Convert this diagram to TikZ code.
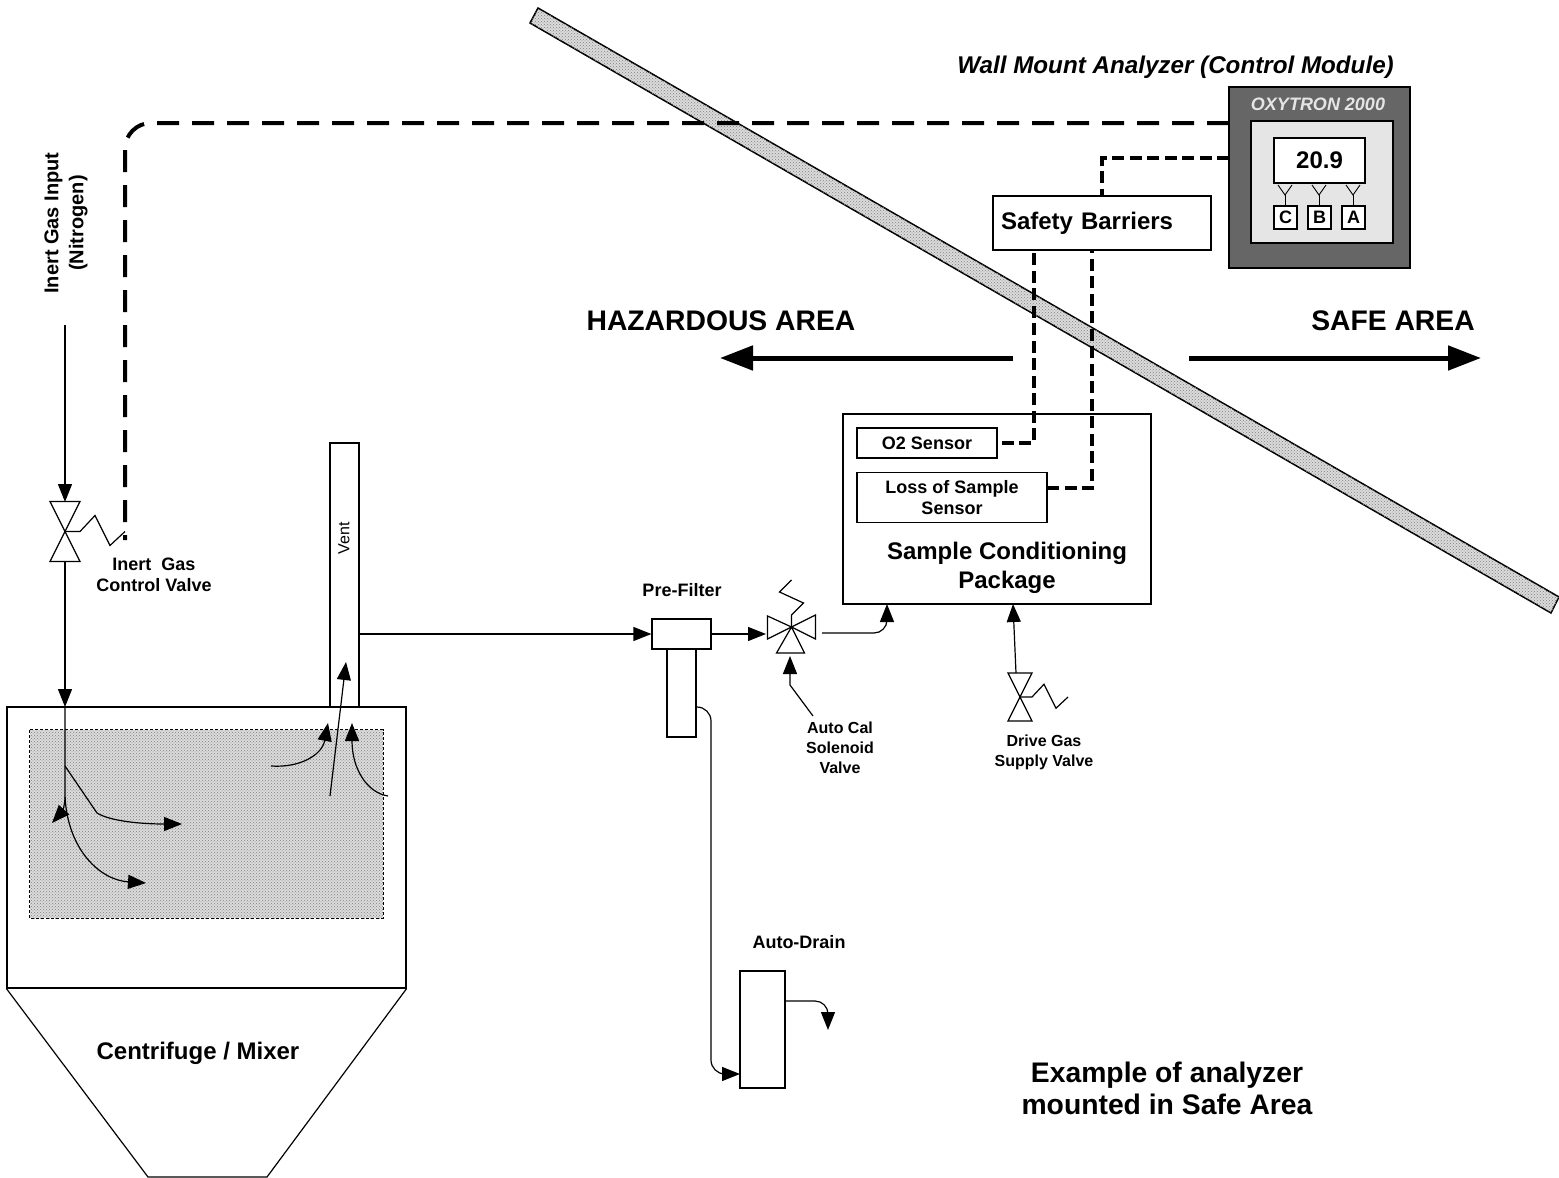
\documentclass[tikz,border=0pt]{standalone}
\usepackage{fontspec}
\setmainfont{Liberation Sans}
\usetikzlibrary{arrows.meta,patterns}

\tikzset{
  boxnode/.style={draw,line width=1.2pt,fill=white,inner sep=0pt},
  pipe/.style={line width=1.2pt},
  flow/.style={line width=1.2pt,-{Triangle[length=18pt,width=14pt]}},
  bigarrow/.style={line width=5pt,-{Triangle[length=33pt,width=24pt]}},
  longdash/.style={line width=4pt,dash pattern=on 22pt off 13pt},
  shortdash/.style={line width=4pt,dash pattern=on 12pt off 5.5pt},
  stipple/.style={fill=black!14,postaction={pattern=crosshatch dots,pattern color=black!50}},
  textsmall/.style={font=\bfseries\fontsize{16}{20}\selectfont,align=center},
  textmid/.style={font=\bfseries\fontsize{18}{21.5}\selectfont,align=center},
  textbig/.style={font=\bfseries\fontsize{24}{29}\selectfont,align=center},
  texthuge/.style={font=\bfseries\fontsize{28.3}{32}\selectfont,align=center}
}

\begin{document}
\begin{tikzpicture}[x=1pt,y=-1pt]
\useasboundingbox (0,0) rectangle (1559,1178);

\def\gasvalve(#1,#2,#3){
  \begin{scope}[shift={(#1,#2)},scale=#3]
    \draw[pipe,fill=white,line join=miter] (-15,-30) -- (15,-30) -- (-15,30) -- (15,30) -- cycle;
    \draw[pipe] (0,0) -- (15,0) -- (30,-16) -- (45,14) -- (60,0);
  \end{scope}
}

\def\ykey(#1,#2){
  \begin{scope}[shift={(#1,#2)}]
    \draw[line width=0.9pt] (-7,-10) -- (0,0) -- (7,-10);
    \draw[line width=0.9pt] (0,0) -- (0,11);
  \end{scope}
}

% wall
\draw[stipple,draw=black,line width=1.5pt] (538,8) -- (1559,597) -- (1551,613) -- (530,23) -- cycle;

% mixer
\node[boxnode,minimum width=29pt,minimum height=264pt] (vent) at (344.5,575) {};
\node[boxnode,minimum width=399pt,minimum height=281pt] (tank) at (206.5,847.5) {};
\draw[pipe] (tank.south west) -- (148,1177) -- (267,1177) -- (tank.south east);
\node[draw=none,inner sep=0pt,minimum width=353pt,minimum height=188pt,stipple] (mixzone) at (206.5,824) {};
\draw[line width=1pt,dash pattern=on 3pt off 2pt] (mixzone.north west) rectangle (mixzone.south east);
\node[rotate=90,font=\fontsize{16}{20}\selectfont] (ventlabel) at (344,538) {Vent};
\node[textbig] (mixerlabel) at (198,1053) {Centrifuge / Mixer};

% inert gas
\coordinate (gasin) at (65,325);
\coordinate (gastop) at (65,502);
\coordinate (gasbottom) at (65,561);
\coordinate (tankin) at (65,707);
\coordinate (split) at (65,766);
\coordinate (swirl) at (65,797);
\node[rotate=90,font=\bfseries\fontsize{20}{25}\selectfont,align=center] (gaslabel) at (66,223) {Inert Gas Input\\(Nitrogen)};
\draw[flow] (gasin) -- (gastop);
\gasvalve(65,531.5,1)
\draw[flow] (gasbottom) -- (tankin);
\node[textmid] (valvelabel) at (154,575) {Inert\ \ Gas\\Control Valve};

% flows in the tank
\coordinate (swirla) at (52,823);
\coordinate (swirlb) at (182,824);
\coordinate (swirlc) at (146,883);
\coordinate (swirld) at (271,766);
\coordinate (swirle) at (328,723);
\coordinate (swirlf) at (330,796);
\coordinate (swirlg) at (346,662);
\coordinate (swirlh) at (388,796);
\coordinate (swirli) at (352,723);
\draw[flow] (tankin) -- (swirl) .. controls (65,805) and (62,812) .. (swirla);
\draw[flow] (split) -- (97,813) .. controls (110,821) and (140,824) .. (swirlb);
\draw[flow] (swirl) .. controls (68,850) and (100,880) .. (swirlc);
\draw[flow] (swirld) .. controls (300,768) and (322,755) .. (swirle);
\draw[flow] (swirlf) -- (swirlg);
\draw[flow] (swirlh) .. controls (368,793) and (352,770) .. (swirli);

% filter and valve
\node[textmid] (filterlabel) at (682,590) {Pre-Filter};
\node[boxnode,minimum width=29pt,minimum height=90pt] (filterbody) at (681.5,692) {};
\node[boxnode,minimum width=59pt,minimum height=30pt] (prefilter) at (681.5,634) {};
\coordinate (ventout) at (359,634);
\coordinate (solenoid) at (766,634);
\draw[flow] (ventout) -- (prefilter.west);
\draw[flow] (prefilter.east) -- (solenoid);

\begin{scope}[shift={(791.5,627)}]
  \draw[pipe,line join=miter] (0,0) -- (-24,-11) -- (-24,12) -- cycle;
  \draw[pipe,line join=miter] (0,0) -- (24,-12) -- (24,12) -- cycle;
  \draw[pipe,line join=miter] (0,0) -- (-15,26) -- (13,26) -- cycle;
  \draw[pipe] (0,0) -- (0,-12) -- (12,-24) -- (-12,-35) -- (0,-47);
\end{scope}

\node[textsmall] (callabel) at (840,748) {Auto Cal\\Solenoid\\Valve};
\coordinate (calfrom) at (813,716);
\coordinate (calto) at (790,656);
\draw[flow] (calfrom) -- (790,685) -- (calto);

% sample conditioning
\node[boxnode,minimum width=308pt,minimum height=190pt] (sample) at (997,509) {};
\node[textbig] (samplelabel) at (1007,568) {Sample Conditioning\\Package};
\node[boxnode,textmid,minimum width=140pt,minimum height=30pt] (otwo) at (927,443) {O2 Sensor};
\node[boxnode,textmid,minimum width=190pt,minimum height=50pt] (loss) at (952,497.5) {Loss of Sample\\Sensor};
\coordinate (solenoidout) at (822,633);
\coordinate (samplein) at (887,604);
\draw[flow,rounded corners=13pt] (solenoidout) -| (samplein);

\coordinate (drivein) at (1013,604);
\coordinate (drivetop) at (1016,673);
\draw[flow] (drivetop) -- (drivein);
\gasvalve(1020,697,0.8)
\node[textsmall] (drivelabel) at (1044,752) {Drive Gas\\Supply Valve};

% drain
\node[textmid] (drainlabel) at (799,942) {Auto-Drain};
\node[boxnode,minimum width=45pt,minimum height=117pt] (drain) at (762.5,1029.5) {};
\coordinate (drainin) at (740,1074);
\coordinate (drainout) at (785,1001);
\coordinate (drainend) at (828,1030);
\coordinate (bodyout) at (696,707);
\draw[flow,rounded corners=14pt] (bodyout) -- (711,707) -- (711,1074) -- (drainin);
\draw[flow,rounded corners=13pt] (drainout) -| (drainend);

% analyzer
\node[font=\bfseries\itshape\fontsize{24.2}{29}\selectfont] (wallmount) at (1175.5,67) {Wall Mount Analyzer (Control Module)};
\node[boxnode,fill=black!60,minimum width=181pt,minimum height=181pt] (panel) at (1319.5,177.5) {};
\node[font=\bfseries\itshape\fontsize{18}{21}\selectfont,text=black!10] (brand) at (1318,104) {OXYTRON 2000};
\node[boxnode,fill=black!10,minimum width=142pt,minimum height=122pt] (face) at (1322,182) {};
\node[boxnode,textbig,minimum width=91pt,minimum height=45pt] (display) at (1319.5,160.5) {20.9};
\node[boxnode,textmid,minimum width=23pt,minimum height=23pt] (keyc) at (1285.5,217.5) {C};
\node[boxnode,textmid,minimum width=23pt,minimum height=23pt] (keyb) at (1319.5,217.5) {B};
\node[boxnode,textmid,minimum width=23pt,minimum height=23pt] (keya) at (1353.5,217.5) {A};
\ykey(1285,195)
\ykey(1319,195)
\ykey(1353,195)

\node[boxnode,font=\bfseries\fontsize{24}{29}\selectfont,minimum width=218pt,minimum height=54pt,inner xsep=8pt,text width=202pt,align=left] (safety) at (1102,223) {Safety Barriers};

% signal lines
\coordinate (panelhi) at (1229,123);
\coordinate (panello) at (1229,158);
\coordinate (valvesig) at (125,540);
\coordinate (bara) at (1034,250);
\coordinate (barb) at (1092,250);
\coordinate (lossout) at (1047,488);
\draw[longdash,rounded corners=26pt] (panelhi) -- (125,123) -- (valvesig);
\draw[shortdash] (panello) -| (safety.north);
\draw[shortdash,shorten <=4pt] (otwo.east) -| (bara);
\draw[shortdash] (lossout) -| (barb);

% areas
\node[texthuge] (hazlabel) at (721,321) {HAZARDOUS AREA};
\node[texthuge] (safelabel) at (1393,321) {SAFE AREA};
\coordinate (hazfrom) at (1013,358);
\coordinate (hazto) at (720,358);
\coordinate (safefrom) at (1189,358);
\coordinate (safeto) at (1481,358);
\draw[bigarrow] (hazfrom) -- (hazto);
\draw[bigarrow] (safefrom) -- (safeto);

\node[texthuge] (examplelabel) at (1167,1088) {Example of analyzer\\mounted in Safe Area};

\end{tikzpicture}
\end{document}
